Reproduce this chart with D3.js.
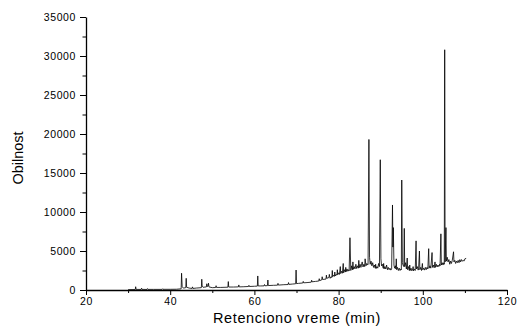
<!DOCTYPE html>
<html><head><meta charset="utf-8">
<script src="https://cdn.jsdelivr.net/npm/d3@7"></script>
<style>
body{margin:0;background:#fff;}
text{font-family:"Liberation Sans",Arial,sans-serif;fill:#000;}
</style></head>
<body>
<svg id="c" width="518" height="335"></svg>
<script>
const times = [
30.0,31.7,31.8,31.9,33.1,33.2,33.3,34.5,34.6,34.7,36.0,38.1,38.2,38.3,40.0,41.5,
42.6,42.7,42.85,43.0,43.2,43.7,43.8,43.9,44.5,45.2,45.3,45.4,46.2,47.4,47.5,47.6,47.8,
48.6,48.7,48.8,49.0,49.1,49.2,50.0,50.8,50.9,51.0,52.0,53.7,53.8,53.9,55.0,56.2,56.3,56.4,
57.5,58.6,58.7,58.8,60.0,60.7,60.8,60.9,61.5,62.3,62.4,62.5,63.1,63.2,63.3,64.5,
65.5,65.6,65.7,67.0,68.0,68.1,68.2,69.0,69.8,69.9,70.0,70.5,71.5,71.6,71.7,72.5,
73.5,73.6,73.7,74.5,75.3,75.4,75.5,76.0,76.1,76.2,77.0,77.1,77.2,77.7,77.8,77.9,
78.0,78.2,78.4,78.5,78.6,78.8,79.0,79.1,79.2,79.4,79.6,79.7,79.8,80.0,80.2,80.4,80.5,80.7,80.9,
81.1,81.2,81.4,81.6,81.7,81.8,82.0,82.2,82.4,82.5,82.7,82.9,83.1,83.3,83.4,83.5,83.7,83.9,
84.1,84.3,84.5,84.7,84.8,84.9,85.1,85.3,85.6,85.8,86.0,86.2,86.3,86.5,86.7,86.9,
87.0,87.2,87.35,87.5,87.7,87.9,88.1,88.3,88.5,88.7,88.8,88.9,89.1,89.3,89.5,89.7,
89.9,90.05,90.2,90.4,90.6,90.7,90.8,91.0,91.2,91.4,91.6,91.8,92.0,92.2,92.4,92.6,
92.8,92.9,93.0,93.15,93.3,93.5,93.6,93.7,93.8,94.0,94.2,94.4,94.6,94.8,94.9,
95.0,95.15,95.3,95.5,95.6,95.7,95.9,96.1,96.3,96.4,96.6,96.8,96.9,97.0,97.2,97.4,97.6,97.7,97.8,
98.0,98.2,98.4,98.5,98.7,98.9,99.0,99.2,99.3,99.5,99.7,99.9,100.0,100.2,100.4,100.6,100.8,
101.0,101.2,101.4,101.5,101.7,101.9,102.2,102.3,102.5,102.7,102.9,103.0,103.2,103.4,103.6,103.8,
104.0,104.1,104.3,104.4,104.6,104.8,105.0,105.1,105.2,105.3,105.5,105.6,105.8,106.0,106.2,106.4,
106.6,106.8,107.0,107.3,107.4,107.6,107.8,108.0,108.2,108.4,108.6,108.8,109.0,109.2,109.4,109.6,
109.8,110.0,110.3
];
const intensity = [
50,60,420,80,70,230,80,70,180,80,80,80,160,90,90,100,
150,2150,400,300,250,300,1500,350,250,200,400,200,250,300,1380,500,350,
400,800,450,500,870,400,300,320,550,330,330,360,1080,380,380,400,650,400,
420,450,600,450,480,500,1800,520,520,530,700,540,560,1280,570,600,
620,850,630,680,700,950,720,760,800,2560,820,850,900,1100,920,950,
1000,1250,1050,1100,1150,1450,1200,1300,1700,1350,1400,1900,1500,1600,2000,1650,
1500,1700,1600,2500,1700,1900,1750,2300,1800,2000,1900,2600,1950,2200,2000,3000,2100,2400,2150,
3400,2200,2600,2300,2900,2350,2700,2400,2600,2450,6700,2500,3100,2600,3600,2650,3000,2700,
3300,2750,3100,2800,3800,2850,3300,2900,3600,2950,3300,3000,4000,3100,3400,3200,
3300,19300,4200,3300,3700,3100,3500,2900,3200,2800,3300,2750,3000,2800,3400,3000,
16700,4000,3100,3300,2800,3400,2700,3000,2700,3200,2600,2900,2600,2800,2550,2700,
10900,5500,8000,3200,2800,3100,2700,4000,2600,2900,2500,2800,2500,2700,2600,
14100,3500,3200,3000,7900,3000,3500,2700,4100,2600,3000,2500,3200,2500,2800,2450,2700,3000,2450,
2700,2500,6300,2700,3000,2550,2700,5000,2600,2900,2500,3400,2600,2800,2550,2900,2600,
2900,2700,5300,2800,3100,2800,4800,2900,3200,2850,3600,2900,3300,2950,3200,3000,
3300,3100,7200,3200,3500,3200,3500,3300,30800,3600,8000,3700,4200,3600,3900,3300,
3700,3400,3800,4900,3600,3800,3400,3700,3500,3800,3500,3900,3600,3900,3700,3800,
3700,4000,4050
];
const xTicks = [20,40,60,80,100,120];
const yTicks = [0,5000,10000,15000,20000,25000,30000,35000];
const xMinor = [30,50,70,90,110];
const yMinor = [2500,7500,12500,17500,22500,27500,32500];

const svg = d3.select("#c");
const L=86, R=507, T=17, B=290;
const x = d3.scaleLinear().domain([20,120]).range([L,R]);
const y = d3.scaleLinear().domain([0,35000]).range([B,T]);

const data = times.map((t,i)=>[t,intensity[i]]);
svg.append("path").datum(data)
  .attr("fill","none").attr("stroke","#000").attr("stroke-width",0.8)
  .attr("d", d3.line().x(d=>x(d[0])).y(d=>y(d[1])));

svg.append("g").attr("transform",`translate(0,${B})`)
  .call(d3.axisBottom(x).tickValues(xTicks).tickSize(5).tickPadding(3).tickFormat(d3.format("d")).tickSizeOuter(0));
svg.append("g").attr("transform",`translate(0,${B})`)
  .call(d3.axisBottom(x).tickValues(xMinor).tickSize(3).tickFormat("").tickSizeOuter(0))
  .select(".domain").remove();
svg.append("g").attr("transform",`translate(${L},0)`)
  .call(d3.axisLeft(y).tickValues(yTicks).tickSize(6).tickPadding(4).tickFormat(d3.format("d")).tickSizeOuter(0));
svg.append("g").attr("transform",`translate(${L},0)`)
  .call(d3.axisLeft(y).tickValues(yMinor).tickSize(3.5).tickFormat("").tickSizeOuter(0))
  .select(".domain").remove();

svg.selectAll(".domain").attr("stroke","#000").attr("stroke-width",1.3);
svg.selectAll(".tick line").attr("stroke","#000");
svg.selectAll(".tick text").style("font-family","'Liberation Sans',Arial,sans-serif")
  .style("font-size","10.5px").style("letter-spacing","0.6px");

svg.append("text").attr("x",297).attr("y",323).attr("text-anchor","middle")
  .style("font-size","14.5px").style("letter-spacing","0.6px").text("Retenciono vreme (min)");
svg.append("text").attr("transform","translate(23,158) rotate(-90)").attr("text-anchor","middle")
  .style("font-size","14.5px").text("Obilnost");
</script>
</body></html>
